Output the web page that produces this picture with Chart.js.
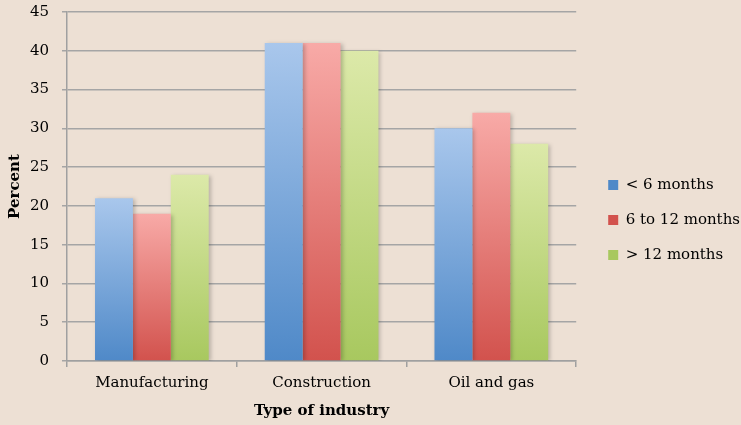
<!DOCTYPE html>
<html>
<head>
<meta charset="utf-8">
<script src="https://cdn.jsdelivr.net/npm/chart.js@4.4.1/dist/chart.umd.min.js"></script>
<style>
  html, body { margin: 0; padding: 0; background: #ede0d4; }
  #wrap { width: 741px; height: 425px; }
</style>
</head>
<body>
<div id="wrap"><canvas id="industry_chart"></canvas></div>
<script>
// DATA
const categories = ['Manufacturing', 'Construction', 'Oil and gas'];
const under_6 = [21, 41, 30];
const six_to_12 = [19, 41, 32];
const over_12 = [24, 40, 28];
const series_labels = ['< 6 months', '6 to 12 months', '> 12 months'];

// top colour / bottom colour of each series
const colours = [
  ['#a9c7ec', '#4f89c8'],
  ['#f8aaa7', '#d2524d'],
  ['#dce9a9', '#a8c85f'],
];

const ctx = document.getElementById('industry_chart').getContext('2d');
const font_family = '"DejaVu Serif", serif';

// gradient per bar, light at the top, dark at the bottom
function barGradient(i) {
  return context => {
    const chart = context.chart;
    const y = chart.scales.y;
    if (!y || context.parsed === undefined) return colours[i][1];
    const top = y.getPixelForValue(context.parsed.y);
    const bottom = y.getPixelForValue(0);
    if (!isFinite(top) || !isFinite(bottom)) return colours[i][1];
    const g = chart.ctx.createLinearGradient(0, top, 0, bottom);
    g.addColorStop(0, colours[i][0]);
    g.addColorStop(1, colours[i][1]);
    return g;
  };
}

// soft shadow behind the bars
const barShadow = {
  id: 'barShadow',
  beforeDatasetsDraw(chart) {
    const c = chart.ctx;
    c.save();
    c.shadowColor = 'rgba(0,0,0,0.22)';
    c.shadowBlur = 4;
    c.shadowOffsetX = 2;
    c.shadowOffsetY = 1;
  },
  afterDatasetsDraw(chart) {
    chart.ctx.restore();
  },
};

// nudge the legend a little right and down, like the original
const legendNudge = {
  id: 'legendNudge',
  afterLayout(chart) {
    const lg = chart.legend;
    if (!lg) return;
    lg.left += 12;
    lg.right += 12;
    lg.top += 10;
    lg.bottom += 10;
  },
};

const data_lists = [under_6, six_to_12, over_12];

new Chart(ctx, {
  type: 'bar',
  data: {
    labels: categories,
    datasets: data_lists.map((list, i) => ({
      label: series_labels[i],
      data: list,
      backgroundColor: barGradient(i),
      borderWidth: 0,
      categoryPercentage: 0.67,
      barPercentage: 1.0,
    })),
  },
  options: {
    responsive: true,
    maintainAspectRatio: false,
    animation: false,
    layout: { padding: { top: 0, left: 0, right: 3, bottom: 5 } },
    plugins: {
      tooltip: { enabled: false },
      legend: {
        position: 'right',
        labels: {
          color: '#000',
          font: { family: font_family, size: 15 },
          boxWidth: 10,
          boxHeight: 10,
          padding: 20,
          generateLabels: chart =>
            series_labels.map((l, i) => ({
              text: l,
              fillStyle: colours[i][1],
              strokeStyle: colours[i][1],
              lineWidth: 0,
              datasetIndex: i,
            })),
        },
      },
    },
    scales: {
      x: {
        grid: {
          offset: true,
          drawOnChartArea: false,
          drawTicks: true,
          tickLength: 6,
          color: '#a0a0a0',
          lineWidth: 1.5,
        },
        border: { color: '#a0a0a0', width: 1.5 },
        ticks: {
          color: '#000',
          font: { family: font_family, size: 15 },
          padding: 7,
        },
        title: {
          display: true,
          text: 'Type of industry',
          color: '#000',
          font: { family: font_family, size: 15, weight: 'bold' },
          padding: { top: 3, bottom: 0 },
        },
      },
      y: {
        min: 0,
        max: 45,
        afterFit: scale => {
          scale.width = 67;
          scale.paddingTop = 12;
        },
        ticks: {
          stepSize: 5,
          color: '#000',
          font: { family: font_family, size: 15 },
          padding: 13,
        },
        grid: {
          color: '#a5a5a5',
          lineWidth: 1.5,
          tickLength: 5,
        },
        border: { color: '#a0a0a0', width: 1.5 },
        title: {
          display: true,
          text: 'Percent',
          color: '#000',
          font: { family: font_family, size: 15, weight: 'bold' },
          padding: { top: 6, bottom: 4 },
        },
      },
    },
  },
  plugins: [barShadow, legendNudge],
});
</script>
</body>
</html>
